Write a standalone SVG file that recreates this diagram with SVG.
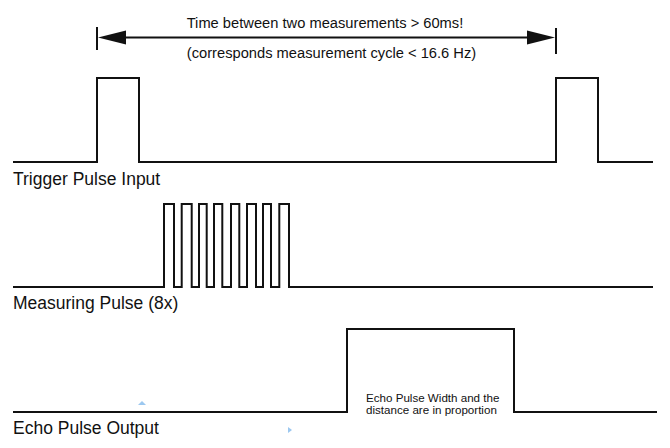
<svg xmlns="http://www.w3.org/2000/svg" width="670" height="448" viewBox="0 0 670 448">
<style>
.wave{fill:none;stroke:#111;stroke-width:2;stroke-linejoin:miter}
.lbl{font-family:"Liberation Sans",Arial,sans-serif;font-size:17.5px;fill:#111}
.note{font-family:"Liberation Sans",Arial,sans-serif;font-size:14.7px;fill:#111}
.small{font-family:"Liberation Sans",Arial,sans-serif;font-size:11.6px;fill:#111}
.mark{fill:#9cc8f0}
</style>
<rect width="670" height="448" fill="#fff"/>
<g id="trigger">
<path class="wave" d="M13,162 H97 V78 H139 V162 H556 V78 H598 V162 H653"/>
<text class="lbl" x="13" y="185">Trigger Pulse Input</text>
</g>
<g id="measuring">
<path class="wave" d="M13,287 H164 V204 H174 V287 H181.7 V204 H191.7 V287 H199 V204 H206.7 V287 H214 V204 H222.3 V287 H231 V204 H239.3 V287 H247 V204 H256 V287 H263 V204 H271 V287 H279.3 V204 H289 V287 H653"/>
<text class="lbl" x="13" y="309">Measuring Pulse (8x)</text>
</g>
<g id="echo">
<path class="wave" d="M13,412 H347 V329 H514 V412 H657"/>
<text class="lbl" x="13" y="434">Echo Pulse Output</text>
<text class="small" x="366" y="402">Echo Pulse Width and the</text>
<text class="small" x="366" y="414">distance are in proportion</text>
</g>
<g id="connectors">
<line x1="97" y1="27" x2="97" y2="50" stroke="#111" stroke-width="2"/>
<line x1="556" y1="28" x2="556" y2="54" stroke="#111" stroke-width="2"/>
<line x1="110" y1="37.5" x2="543" y2="37.5" stroke="#111" stroke-width="2"/>
<polygon points="98,37.5 126,30.5 126,44.5" fill="#111"/>
<polygon points="555,37.5 527,30.5 527,44.5" fill="#111"/>
</g>
<g id="note">
<text class="note" x="325" y="28" text-anchor="middle">Time between two measurements &gt; 60ms!</text>
<text class="note" x="331.5" y="58" text-anchor="middle">(corresponds measurement cycle &lt; 16.6 Hz)</text>
</g>
<polygon class="mark" points="138,405 146,405 142,401"/>
<polygon class="mark" points="288,427 288,433 292,430"/>
</svg>
